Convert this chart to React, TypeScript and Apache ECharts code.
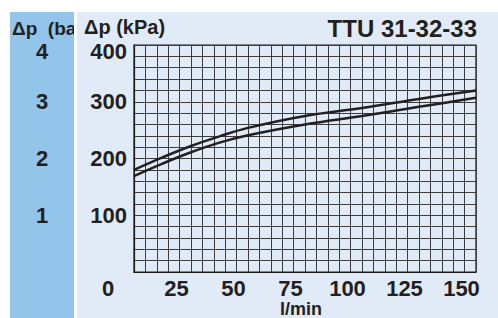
import React, { useEffect, useRef } from "react";
import * as echarts from "echarts";

const flowUpper = [0, 12.5, 25, 37.5, 50, 75, 100, 125, 150];
const dpUpper = [180, 202, 222, 239, 254, 275, 289, 305, 320];
const flowLower = [0, 12.5, 25, 37.5, 50, 75, 100, 125, 150];
const dpLower = [169, 191, 211, 228, 241, 260, 275, 291, 307];
const xTickLabels = [25, 50, 75, 100, 125, 150];
const kpaTickLabels = [100, 200, 300, 400];
const barTickLabels = [1, 2, 3, 4];

const TEXT = "#231f20";
const FONT = "'Liberation Sans', Arial, sans-serif";

export default function App() {
  const ref = useRef<HTMLDivElement>(null);
  useEffect(() => {
    if (!ref.current) return;
    const chart = echarts.init(ref.current, undefined, { renderer: "svg" });
    const labelStyle = { color: TEXT, fontFamily: FONT, fontWeight: "bold" as const, fontSize: 22 };
    chart.setOption({
      animation: false,
      backgroundColor: "#ffffff",
      graphic: [
        { type: "rect", z: -30, shape: { x: 10, y: 12, width: 64, height: 306 }, style: { fill: "#93c4e9" } },
        { type: "text", z: -29, x: 12, y: 28, style: { text: "Δp  (bar)", fill: TEXT, font: `bold 19px ${FONT}`, verticalAlign: "middle" } },
        { type: "rect", z: -28, shape: { x: 74, y: 12, width: 3, height: 306 }, style: { fill: "#ffffff" } },
        { type: "rect", z: -28, shape: { x: 77, y: 12, width: 421, height: 306 }, style: { fill: "#e1ebf7" } },
        { type: "text", z: -27, x: 84, y: 27, style: { text: "Δp (kPa)", fill: TEXT, font: `bold 20px ${FONT}`, verticalAlign: "middle" } },
        { type: "text", z: -27, x: 477, y: 28, style: { text: "TTU 31-32-33", fill: TEXT, font: `bold 24px ${FONT}`, align: "right", verticalAlign: "middle" } },
        { type: "text", z: -27, x: 108, y: 288, style: { text: "0", fill: TEXT, font: `bold 22px ${FONT}`, align: "center", verticalAlign: "middle" } },
        { type: "text", z: -27, x: 280, y: 300, style: { text: "l/min", fill: TEXT, font: `bold 18px ${FONT}`, align: "left", verticalAlign: "top" } },
      ],
      grid: { left: 134, top: 45, width: 342, height: 227, show: true, borderColor: "#1a1a1a", borderWidth: 1.2, backgroundColor: "transparent" },
      xAxis: {
        type: "value", min: 0, max: 150, interval: 5,
        axisLine: { show: true, lineStyle: { color: "#1a1a1a", width: 1.2 } },
        axisTick: { show: false },
        splitLine: { show: true, lineStyle: { color: "#3c3c3c", width: 1 } },
        axisLabel: {
          ...labelStyle, margin: 5, padding: [0, 29, 0, 0],
          formatter: (v: number) => (xTickLabels.includes(v) ? String(v) : ""),
        },
      },
      yAxis: [
        {
          type: "value", min: 0, max: 400, interval: 20,
          axisLine: { show: true, lineStyle: { color: "#1a1a1a", width: 1.2 } },
          axisTick: { show: false },
          splitLine: { show: true, lineStyle: { color: "#3c3c3c", width: 1 } },
          axisLabel: {
            ...labelStyle, margin: 7,
            formatter: (v: number) => (v === 400 ? "{a|400}" : kpaTickLabels.includes(v) ? String(v) : ""),
            rich: { a: { ...labelStyle, padding: [12, 0, 0, 0] } },
          },
        },
        {
          type: "value", min: 0, max: 4, interval: 1, position: "left",
          axisLine: { show: false }, axisTick: { show: false }, splitLine: { show: false },
          axisLabel: {
            ...labelStyle, margin: 92, align: "center",
            formatter: (v: number) => (v === 4 ? "{a|4}" : barTickLabels.includes(v) ? String(v) : ""),
            rich: { a: { ...labelStyle, padding: [12, 0, 0, 0] } },
          },
        },
      ],
      series: [
        {
          type: "line", name: "upper", smooth: 0.4, symbol: "none", z: 10,
          lineStyle: { color: TEXT, width: 2.5 },
          data: flowUpper.map((x, i) => [x, dpUpper[i]]),
        },
        {
          type: "line", name: "lower", smooth: 0.4, symbol: "none", z: 10,
          lineStyle: { color: TEXT, width: 2.5 },
          data: flowLower.map((x, i) => [x, dpLower[i]]),
        },
      ],
    });
    return () => chart.dispose();
  }, []);
  return <div ref={ref} style={{ position: "fixed", left: 0, top: 0, width: 498, height: 318 }} />;
}
